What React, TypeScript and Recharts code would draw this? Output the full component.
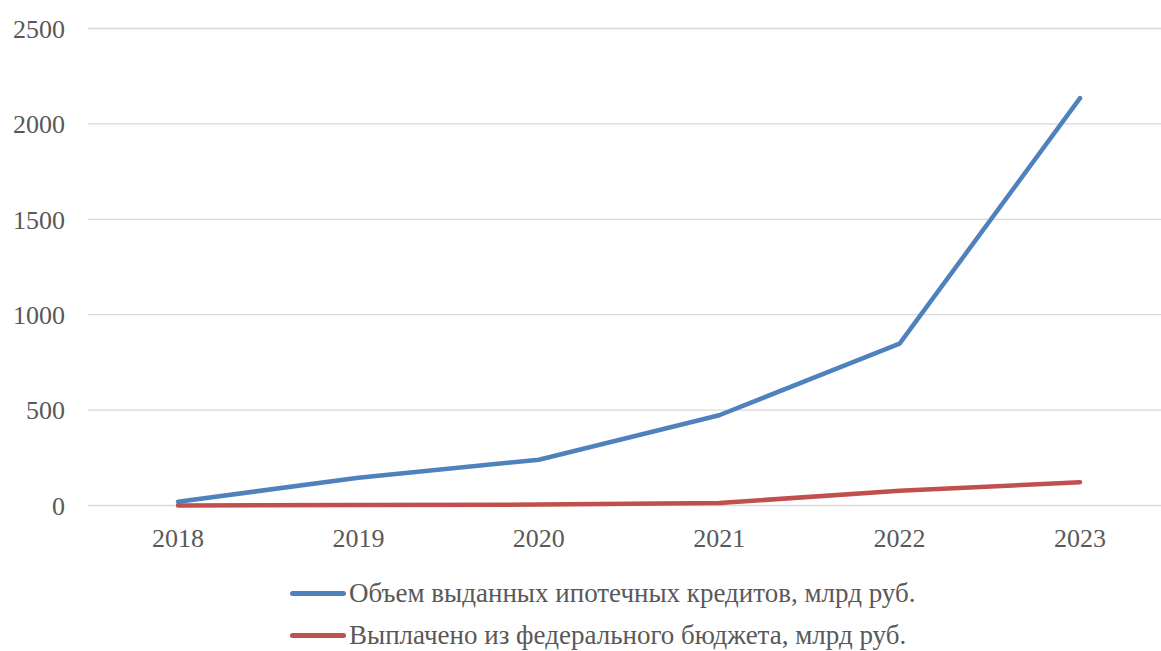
import { LineChart, Line, XAxis, YAxis, CartesianGrid, Legend } from "recharts"

const years = ["2018", "2019", "2020", "2021", "2022", "2023"]
const mortgageVolume = [20, 145, 240, 473, 848, 2135]
const budgetPaid = [0, 2, 5, 13, 77, 122]
const yTicks = [0, 500, 1000, 1500, 2000, 2500]

const seriesNames = [
  "Объем выданных ипотечных кредитов, млрд руб.",
  "Выплачено из федерального бюджета, млрд руб.",
]
const COLORS = ["#4f81bd", "#c0504d"]

const FONT = '"Liberation Serif", "Times New Roman", serif'

const data = years.map((year, i) => ({
  year,
  volume: mortgageVolume[i],
  paid: budgetPaid[i],
}))

function LegendBox() {
  return (
    <div style={{ position: "absolute", left: 290, top: 572, fontFamily: FONT }}>
      {seriesNames.map((name, i) => (
        <div key={name} style={{ display: "flex", alignItems: "center", height: 42 }}>
          <div
            style={{
              width: 56,
              height: 5,
              borderRadius: 3,
              background: COLORS[i],
              marginRight: 3,
            }}
          />
          <span style={{ fontSize: 27, color: "#595959", whiteSpace: "nowrap" }}>{name}</span>
        </div>
      ))}
    </div>
  )
}

export default function App() {
  return (
    <div
      style={{
        position: "absolute",
        left: 0,
        top: 0,
        width: 1161,
        height: 651,
        overflow: "hidden",
        background: "#fff",
        fontFamily: FONT,
      }}
    >
      <LineChart
        width={1170}
        height={651}
        data={data}
        margin={{ top: 28.5, right: 0, bottom: 0, left: 0 }}
      >
        <CartesianGrid vertical={false} stroke="#d9d9d9" strokeWidth={1.3} />
        <XAxis
          dataKey="year"
          axisLine={false}
          tickLine={false}
          tickSize={0}
          tickMargin={23}
          height={55.5}
          padding={{ left: 90, right: 90 }}
          tick={{ fontSize: 26, fill: "#595959", fontFamily: FONT }}
        />
        <YAxis
          domain={[0, 2500]}
          ticks={yTicks}
          axisLine={false}
          tickLine={false}
          tickSize={0}
          tickMargin={23}
          width={88}
          tick={{ fontSize: 26, fill: "#595959", fontFamily: FONT }}
        />
        <Legend
          verticalAlign="bottom"
          height={90}
          content={() => null}
        />
        <Line
          type="linear"
          dataKey="volume"
          name={seriesNames[0]}
          stroke={COLORS[0]}
          strokeWidth={4.5}
          strokeLinecap="round"
          strokeLinejoin="round"
          dot={false}
          isAnimationActive={false}
        />
        <Line
          type="linear"
          dataKey="paid"
          name={seriesNames[1]}
          stroke={COLORS[1]}
          strokeWidth={4.5}
          strokeLinecap="round"
          strokeLinejoin="round"
          dot={false}
          isAnimationActive={false}
        />
      </LineChart>
      <LegendBox />
    </div>
  )
}
